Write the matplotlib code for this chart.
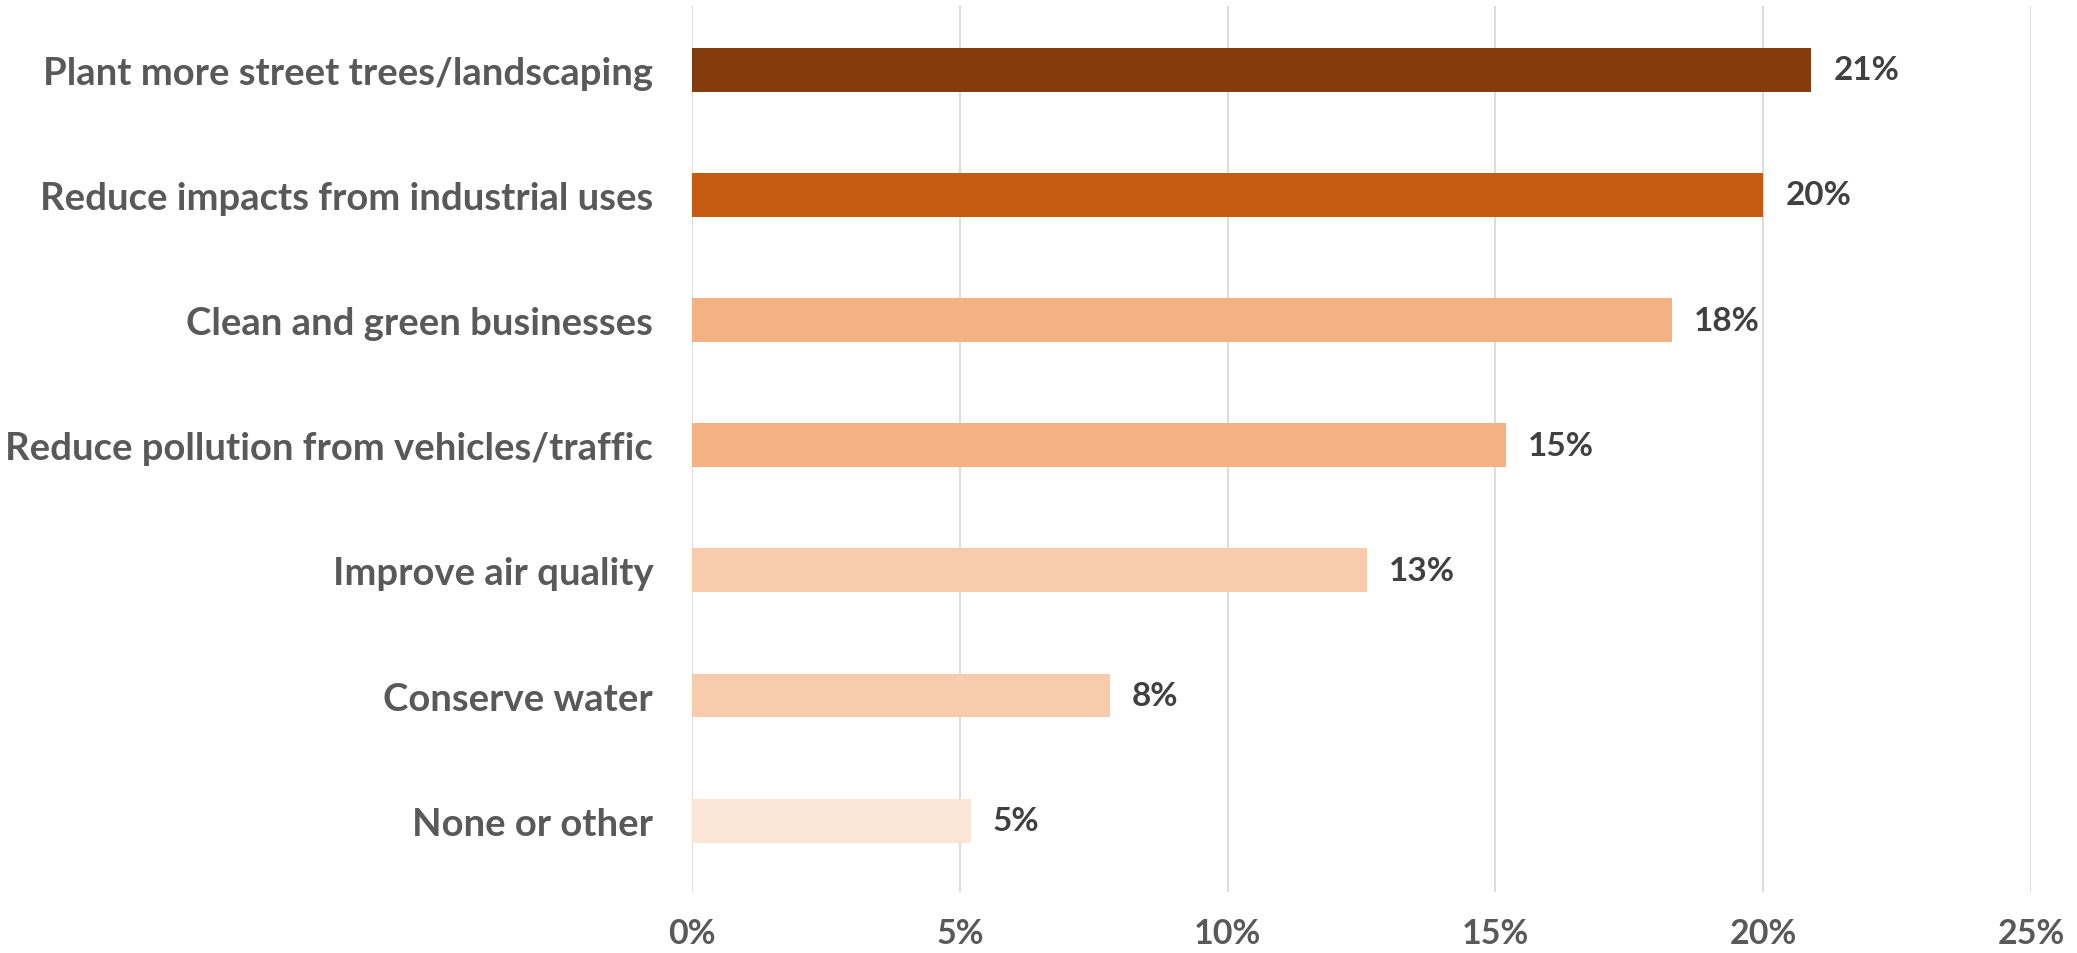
import matplotlib
matplotlib.use("Agg")
import matplotlib.pyplot as plt
from matplotlib.ticker import PercentFormatter

# survey answers, top to bottom
categories = [
    "Plant more street trees/landscaping",
    "Reduce impacts from industrial uses",
    "Clean and green businesses",
    "Reduce pollution from vehicles/traffic",
    "Improve air quality",
    "Conserve water",
    "None or other",
]
shares = [20.9, 20.0, 18.3, 15.2, 12.6, 7.8, 5.2]
value_labels = ["21%", "20%", "18%", "15%", "13%", "8%", "5%"]
bar_colors = ["#843C0C", "#C55A11", "#F4B183", "#F4B183",
              "#F8CBAD", "#F8CBAD", "#FBE5D6"]
x_ticks = [0, 5, 10, 15, 20, 25]

plt.rcParams['font.family'] = ['Lato', 'DejaVu Sans']

fig = plt.figure(figsize=(20.77, 9.54), dpi=100)
ax = fig.add_axes([0.3332, 0.0639, 0.6446, 0.9288])

ypos = list(range(len(categories)))
ax.barh(ypos, shares, height=0.35, color=bar_colors, zorder=3)

# value labels at bar ends
for y, v, lab in zip(ypos, shares, value_labels):
    ax.annotate(lab, (v, y), xytext=(16, 0), textcoords='offset points',
                ha='left', va='center', fontsize=24, fontweight='bold',
                color='#404040')

ax.set_yticks(ypos)
ax.set_yticklabels(categories, fontsize=27.5, fontweight='bold', color='#595959')
ax.set_xticks(x_ticks)
ax.xaxis.set_major_formatter(PercentFormatter(decimals=0))
for t in ax.get_xticklabels():
    t.set_fontsize(24.5)
    t.set_fontweight('bold')
    t.set_color('#595959')

ax.set_xlim(0, 25)
ax.set_ylim(6.57, -0.51)
ax.tick_params(axis='y', length=0, pad=28)
ax.tick_params(axis='x', length=0, pad=18)
ax.grid(axis='x', color='#D9D9D9', linewidth=1.3, zorder=0)
for s in ax.spines.values():
    s.set_visible(False)

fig.savefig("out.png", dpi=100)
